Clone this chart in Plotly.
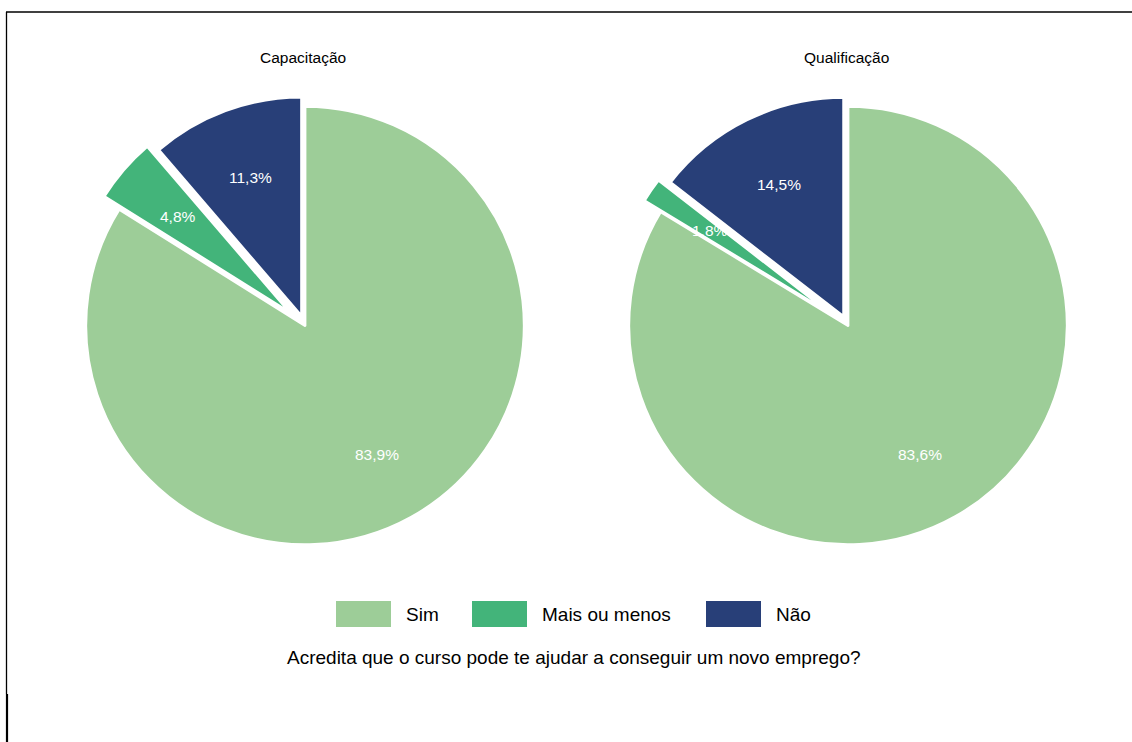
import math
import plotly.graph_objects as go

categories = ["Sim", "Mais ou menos", "Não"]
groups = ["Capacitação", "Qualificação"]
capacitacao = [83.9, 4.8, 11.3]
qualificacao = [83.6, 1.8, 14.5]
colors = ["#9DCD98", "#43B47A", "#283F78"]
pulls = [0, 0.09, 0.045]
question = "Acredita que o curso pode te ajudar a conseguir um novo emprego?"

W, H = 1132, 742
FONT = "Liberation Sans, Arial, sans-serif"
R = 217.3                 # visible pie radius in px
R_DOMAIN = 219.2          # radius used to size the domain (plotly trims a little)
CENTERS = [(305, 325.5), (848, 325.5)]
LABEL_R = 0.68            # label radius as fraction of R


def px_x(x):
    return x / W


def px_y(y):
    return 1 - y / H


def fmt(v):
    return f"{v:.1f}%".replace(".", ",")


fig = go.Figure()
annotations = []
half = R_DOMAIN * (1 + max(pulls))
for g, vals, (cx, cy) in zip(groups, [capacitacao, qualificacao], CENTERS):
    fig.add_trace(go.Pie(
        labels=categories, values=vals, sort=False, direction="clockwise",
        rotation=0, pull=pulls,
        marker=dict(colors=colors, line=dict(color="white", width=2.8)),
        textinfo="none",
        hoverinfo="label+percent", showlegend=False,
        domain=dict(x=[px_x(cx - half), px_x(cx + half)],
                    y=[px_y(cy + half), px_y(cy - half)]),
        name=g,
    ))
    # percentage labels placed along each slice bisector
    total = sum(vals)
    cum = 0
    for v, p in zip(vals, pulls):
        mid = (cum + v / 2) / total * 2 * math.pi
        cum += v
        rr = (p + LABEL_R) * R
        lx = cx + rr * math.sin(mid)
        ly = cy - rr * math.cos(mid)
        annotations.append(dict(x=px_x(lx), y=px_y(ly), xref="paper", yref="paper",
                                text=fmt(v), showarrow=False, xanchor="center",
                                yanchor="middle",
                                font=dict(size=15.5, color="white", family=FONT)))

for g, (cx, cy) in zip(groups, CENTERS):
    annotations.append(dict(x=px_x(cx - 2), y=px_y(57), xref="paper", yref="paper",
                            text=g, showarrow=False, xanchor="center", yanchor="middle",
                            font=dict(size=15.5, color="black", family=FONT)))

shapes = []
sw_x = [336, 472, 706]
for cat, col, x0 in zip(categories, colors, sw_x):
    shapes.append(dict(type="rect", xref="paper", yref="paper",
                       x0=px_x(x0), x1=px_x(x0 + 55), y0=px_y(627), y1=px_y(601),
                       fillcolor=col, line=dict(width=0)))
    annotations.append(dict(x=px_x(x0 + 68), y=px_y(614), xref="paper", yref="paper",
                            text=cat, showarrow=False, xanchor="left", yanchor="middle",
                            font=dict(size=19, color="black", family=FONT)))

annotations.append(dict(x=px_x(574), y=px_y(657), xref="paper", yref="paper",
                        text=question, showarrow=False, xanchor="center", yanchor="middle",
                        font=dict(size=19, color="black", family=FONT)))

# frame lines
shapes.append(dict(type="line", xref="paper", yref="paper", x0=px_x(6), x1=1.01,
                   y0=px_y(12), y1=px_y(12), line=dict(color="black", width=1.3)))
shapes.append(dict(type="line", xref="paper", yref="paper", x0=px_x(6.5), x1=px_x(6.5),
                   y0=px_y(12), y1=px_y(694), line=dict(color="black", width=1.3)))
shapes.append(dict(type="line", xref="paper", yref="paper", x0=px_x(7), x1=px_x(7),
                   y0=px_y(694), y1=-0.01, line=dict(color="black", width=2.2)))

fig.update_layout(
    width=W, height=H, margin=dict(l=0, r=0, t=0, b=0),
    paper_bgcolor="white", plot_bgcolor="white",
    annotations=annotations, shapes=shapes,
    font=dict(family=FONT),
)

fig.write_html("out.html", config={"displayModeBar": False},
               post_script="document.body.style.margin='0';document.body.style.overflow='hidden';")
